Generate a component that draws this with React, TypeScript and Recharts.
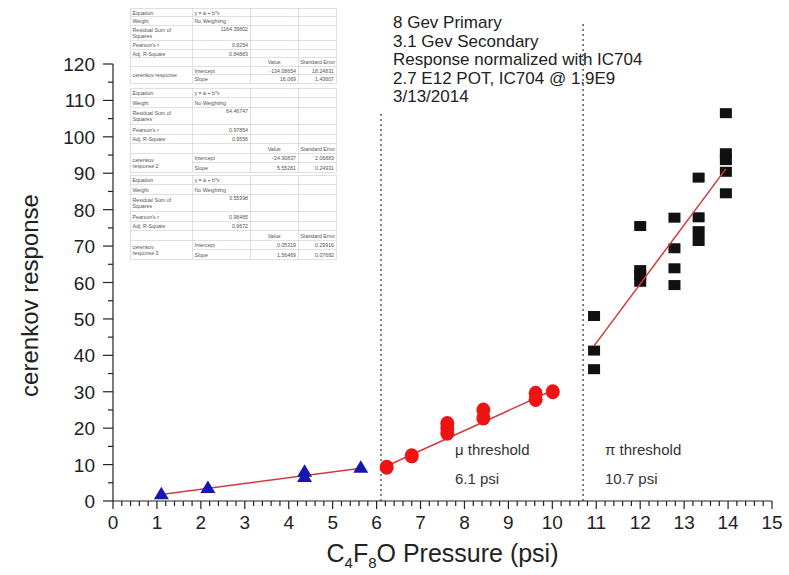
import { ComposedChart, Scatter, XAxis, YAxis, ReferenceLine } from "recharts"

const FONT = '"Liberation Sans", Arial, sans-serif'

// below mu threshold (blue triangles)
const blueX = [1.1, 2.16, 4.36, 4.36, 5.64]
const blueY = [2.0, 3.7, 8.2, 6.7, 9.3]
// between thresholds (red circles)
const redX = [6.23, 6.8, 7.61, 7.61, 7.61, 8.43, 8.43, 9.62, 9.62, 10.01]
const redY = [9.3, 12.4, 21.3, 20.0, 18.6, 25.0, 22.8, 29.6, 27.9, 30.0]
// above pi threshold (black squares)
const blackX = [10.95, 10.95, 10.95, 12, 12, 12, 12, 12.78, 12.78, 12.78, 12.78, 13.33, 13.33, 13.33, 13.33, 13.95, 13.95, 13.95, 13.95, 13.95]
const blackY = [50.8, 41.3, 36.2, 75.5, 63.4, 62.1, 60.2, 77.8, 69.4, 63.9, 59.3, 88.8, 77.9, 74.1, 71.4, 106.5, 95.5, 93.6, 90.4, 84.5]

// linear fit end points
const blueFitX = [1.1, 5.64]
const blueFitY = [1.8, 9.0]
const redFitX = [6.23, 10.01]
const redFitY = [9.6, 30.4]
const blackFitX = [10.95, 13.95]
const blackFitY = [42.6, 91.2]

const thresholds = [6.1, 10.7]
const thresholdTops = [107, 131]

const xTicks = Array.from({ length: 76 }, (_, i) => i / 5)
const yTicks = Array.from({ length: 25 }, (_, i) => i * 5)

const infoLines = [
  "8 Gev Primary",
  "3.1 Gev Secondary",
  "Response normalized with IC704",
  "2.7 E12 POT, IC704 @ 1.9E9",
  "3/13/2014",
]

const fitTables = [
  { name: ["cerenkov response"], rss: "1164.39802", r: "0.9254", adj: "0.84883", a: "-134.08654", aErr: "18.24831", b: "16.069", bErr: "1.43607" },
  { name: ["cerenkov", "response 2"], rss: "64.46747", r: "0.97854", adj: "0.9556", a: "-24.90837", aErr: "2.06883", b: "5.55261", bErr: "0.24931" },
  { name: ["cerenkov", "response 3"], rss: "3.55398", r: "0.98465", adj: "0.9672", a: "0.05319", aErr: "0.29916", b: "1.56469", bErr: "0.07682" },
]

const toPts = (xs: number[], ys: number[]) => xs.map((x, i) => ({ x, y: ys[i] }))

const Triangle = ({ cx, cy }: any) => (
  <polygon points={`${cx},${cy - 7} ${cx + 7.5},${cy + 5.5} ${cx - 7.5},${cy + 5.5}`} fill="#1616b0" />
)
const Dot = ({ cx, cy }: any) => <ellipse cx={cx} cy={cy} rx={7} ry={7.5} fill="#ee1414" />
const Square = ({ cx, cy }: any) => <rect x={cx - 6} y={cy - 5} width={12} height={10} fill="#111" />
const NoShape = () => <g />

const XTick = ({ x, y, payload }: any) => {
  const v = payload.value
  const major = Math.abs(v - Math.round(v)) < 1e-6
  return (
    <g>
      <line x1={x} x2={x} y1={y} y2={y + (major ? 8 : 5)} stroke="#222" strokeWidth={1.2} />
      {major && (
        <text x={x} y={y + 28} textAnchor="middle" fontSize={19} fill="#222" fontFamily={FONT}>
          {Math.round(v)}
        </text>
      )}
    </g>
  )
}

const YTick = ({ x, y, payload }: any) => {
  const v = payload.value
  const major = v % 10 === 0
  return (
    <g>
      <line x1={x - (major ? 10 : 5)} x2={x} y1={y} y2={y} stroke="#222" strokeWidth={1.2} />
      {major && (
        <text x={x - 18} y={y + 7} textAnchor="end" fontSize={19} fill="#222" fontFamily={FONT}>
          {v}
        </text>
      )}
    </g>
  )
}

const FitTable = ({ t, top, rowH }: any) => {
  const cell = { border: "1px solid #cdbfc2", padding: "0 4px", height: rowH, verticalAlign: "middle" as const, whiteSpace: "nowrap" as const, overflow: "hidden" }
  const num = { ...cell, textAlign: "right" as const }
  return (
    <div style={{ position: "absolute", left: 130, top, transform: "scale(0.5)", transformOrigin: "0 0" }}>
      <table style={{ borderCollapse: "collapse", tableLayout: "fixed", width: 412, background: "#fff", fontSize: 10.5, color: "#555", fontFamily: FONT, lineHeight: "12px" }}>
        <colgroup>
          <col style={{ width: 124 }} />
          <col style={{ width: 116 }} />
          <col style={{ width: 96 }} />
          <col style={{ width: 76 }} />
        </colgroup>
        <tbody>
          <tr><td style={cell}>Equation</td><td style={cell}>y = a + b*x</td><td style={cell} /><td style={cell} /></tr>
          <tr><td style={cell}>Weight</td><td style={cell}>No Weighting</td><td style={cell} /><td style={cell} /></tr>
          <tr>
            <td style={{ ...cell, height: rowH * 2 - 2 }}>Residual Sum of<br />Squares</td>
            <td style={{ ...num, verticalAlign: "top" }}>{t.rss}</td><td style={cell} /><td style={cell} />
          </tr>
          <tr><td style={cell}>Pearson's r</td><td style={num}>{t.r}</td><td style={cell} /><td style={cell} /></tr>
          <tr><td style={cell}>Adj. R-Square</td><td style={num}>{t.adj}</td><td style={cell} /><td style={cell} /></tr>
          <tr><td style={cell} /><td style={cell} /><td style={{ ...cell, textAlign: "center" }}>Value</td><td style={cell}>Standard Error</td></tr>
          <tr>
            <td style={cell} rowSpan={2}>{t.name.map((s: string, i: number) => <div key={i}>{s}</div>)}</td>
            <td style={cell}>Intercept</td><td style={num}>{t.a}</td><td style={num}>{t.aErr}</td>
          </tr>
          <tr><td style={cell}>Slope</td><td style={num}>{t.b}</td><td style={num}>{t.bErr}</td></tr>
        </tbody>
      </table>
    </div>
  )
}

const XTitle = ({ viewBox }: any) => {
  const cx = viewBox.x + viewBox.width / 2
  return (
    <text x={cx} y={562} textAnchor="middle" fontSize={25} fill="#222" fontFamily={FONT}>
      C<tspan fontSize={15} dy={6}>4</tspan>
      <tspan dy={-6}>F</tspan>
      <tspan fontSize={15} dy={6}>8</tspan>
      <tspan dy={-6}>O Pressure (psi)</tspan>
    </text>
  )
}

const YTitle = ({ viewBox }: any) => {
  const cy = viewBox.y + viewBox.height / 2
  return (
    <text x={38} y={cy + 13} transform={`rotate(-90 38 ${cy + 13})`} textAnchor="middle" fontSize={24} fill="#222" fontFamily={FONT}>
      cerenkov response
    </text>
  )
}

export default function App() {
  const fitLine = { stroke: "#d23a3a", strokeWidth: 1.5 }
  return (
    <div style={{ position: "absolute", left: 0, top: 0, width: 789, height: 575, background: "#fff" }}>
      <ComposedChart width={789} height={575} margin={{ top: 64, right: 17, bottom: 0, left: 53 }}>
        <XAxis
          xAxisId="x"
          type="number"
          dataKey="x"
          domain={[0, 15]}
          ticks={xTicks}
          interval={0}
          tickSize={0}
          tickMargin={0}
          tickLine={false}
          tick={(p: any) => <XTick {...p} />}
          height={74}
          stroke="#222"
          strokeWidth={1.2}
          label={{ content: (p: any) => <XTitle {...p} /> }}
        />
        <YAxis
          yAxisId="y"
          type="number"
          dataKey="y"
          domain={[0, 120]}
          ticks={yTicks}
          interval={0}
          tickSize={0}
          tickMargin={0}
          tickLine={false}
          tick={(p: any) => <YTick {...p} />}
          width={60}
          stroke="#222"
          strokeWidth={1.2}
          label={{ content: (p: any) => <YTitle {...p} /> }}
        />
        {thresholds.map((t, i) => (
          <ReferenceLine
            key={t}
            xAxisId="x"
            yAxisId="y"
            segment={[{ x: t, y: 0 }, { x: t, y: thresholdTops[i] }]}
            stroke="#222"
            strokeWidth={1.1}
            strokeDasharray="2 3"
            ifOverflow="visible"
          />
        ))}
        <Scatter xAxisId="x" yAxisId="y" data={toPts(blueFitX, blueFitY)} line={fitLine} shape={NoShape} isAnimationActive={false} />
        <Scatter xAxisId="x" yAxisId="y" data={toPts(blueX, blueY)} shape={Triangle} isAnimationActive={false} />
        <Scatter xAxisId="x" yAxisId="y" data={toPts(redFitX, redFitY)} line={fitLine} shape={NoShape} isAnimationActive={false} />
        <Scatter xAxisId="x" yAxisId="y" data={toPts(redX, redY)} shape={Dot} isAnimationActive={false} />
        <Scatter xAxisId="x" yAxisId="y" data={toPts(blackX, blackY)} shape={Square} isAnimationActive={false} />
        <Scatter xAxisId="x" yAxisId="y" data={toPts(blackFitX, blackFitY)} line={fitLine} shape={NoShape} isAnimationActive={false} />
      </ComposedChart>

      <FitTable t={fitTables[0]} top={8} rowH={16} />
      <FitTable t={fitTables[1]} top={88} rowH={18} />
      <FitTable t={fitTables[2]} top={175} rowH={18} />

      <svg width={789} height={575} style={{ position: "absolute", left: 0, top: 0, pointerEvents: "none" }}>
        {infoLines.map((s, i) => (
          <text key={s} x={393} y={28 + i * 18.6} fontSize={17} fill="#222" fontFamily={FONT}>
            {s}
          </text>
        ))}
        <g fontSize={15} fill="#333" fontFamily={FONT}>
          <text x={455} y={455}>μ threshold</text>
          <text x={455} y={484}>6.1 psi</text>
          <text x={605} y={455}>π threshold</text>
          <text x={605} y={484}>10.7 psi</text>
        </g>
      </svg>
    </div>
  )
}
